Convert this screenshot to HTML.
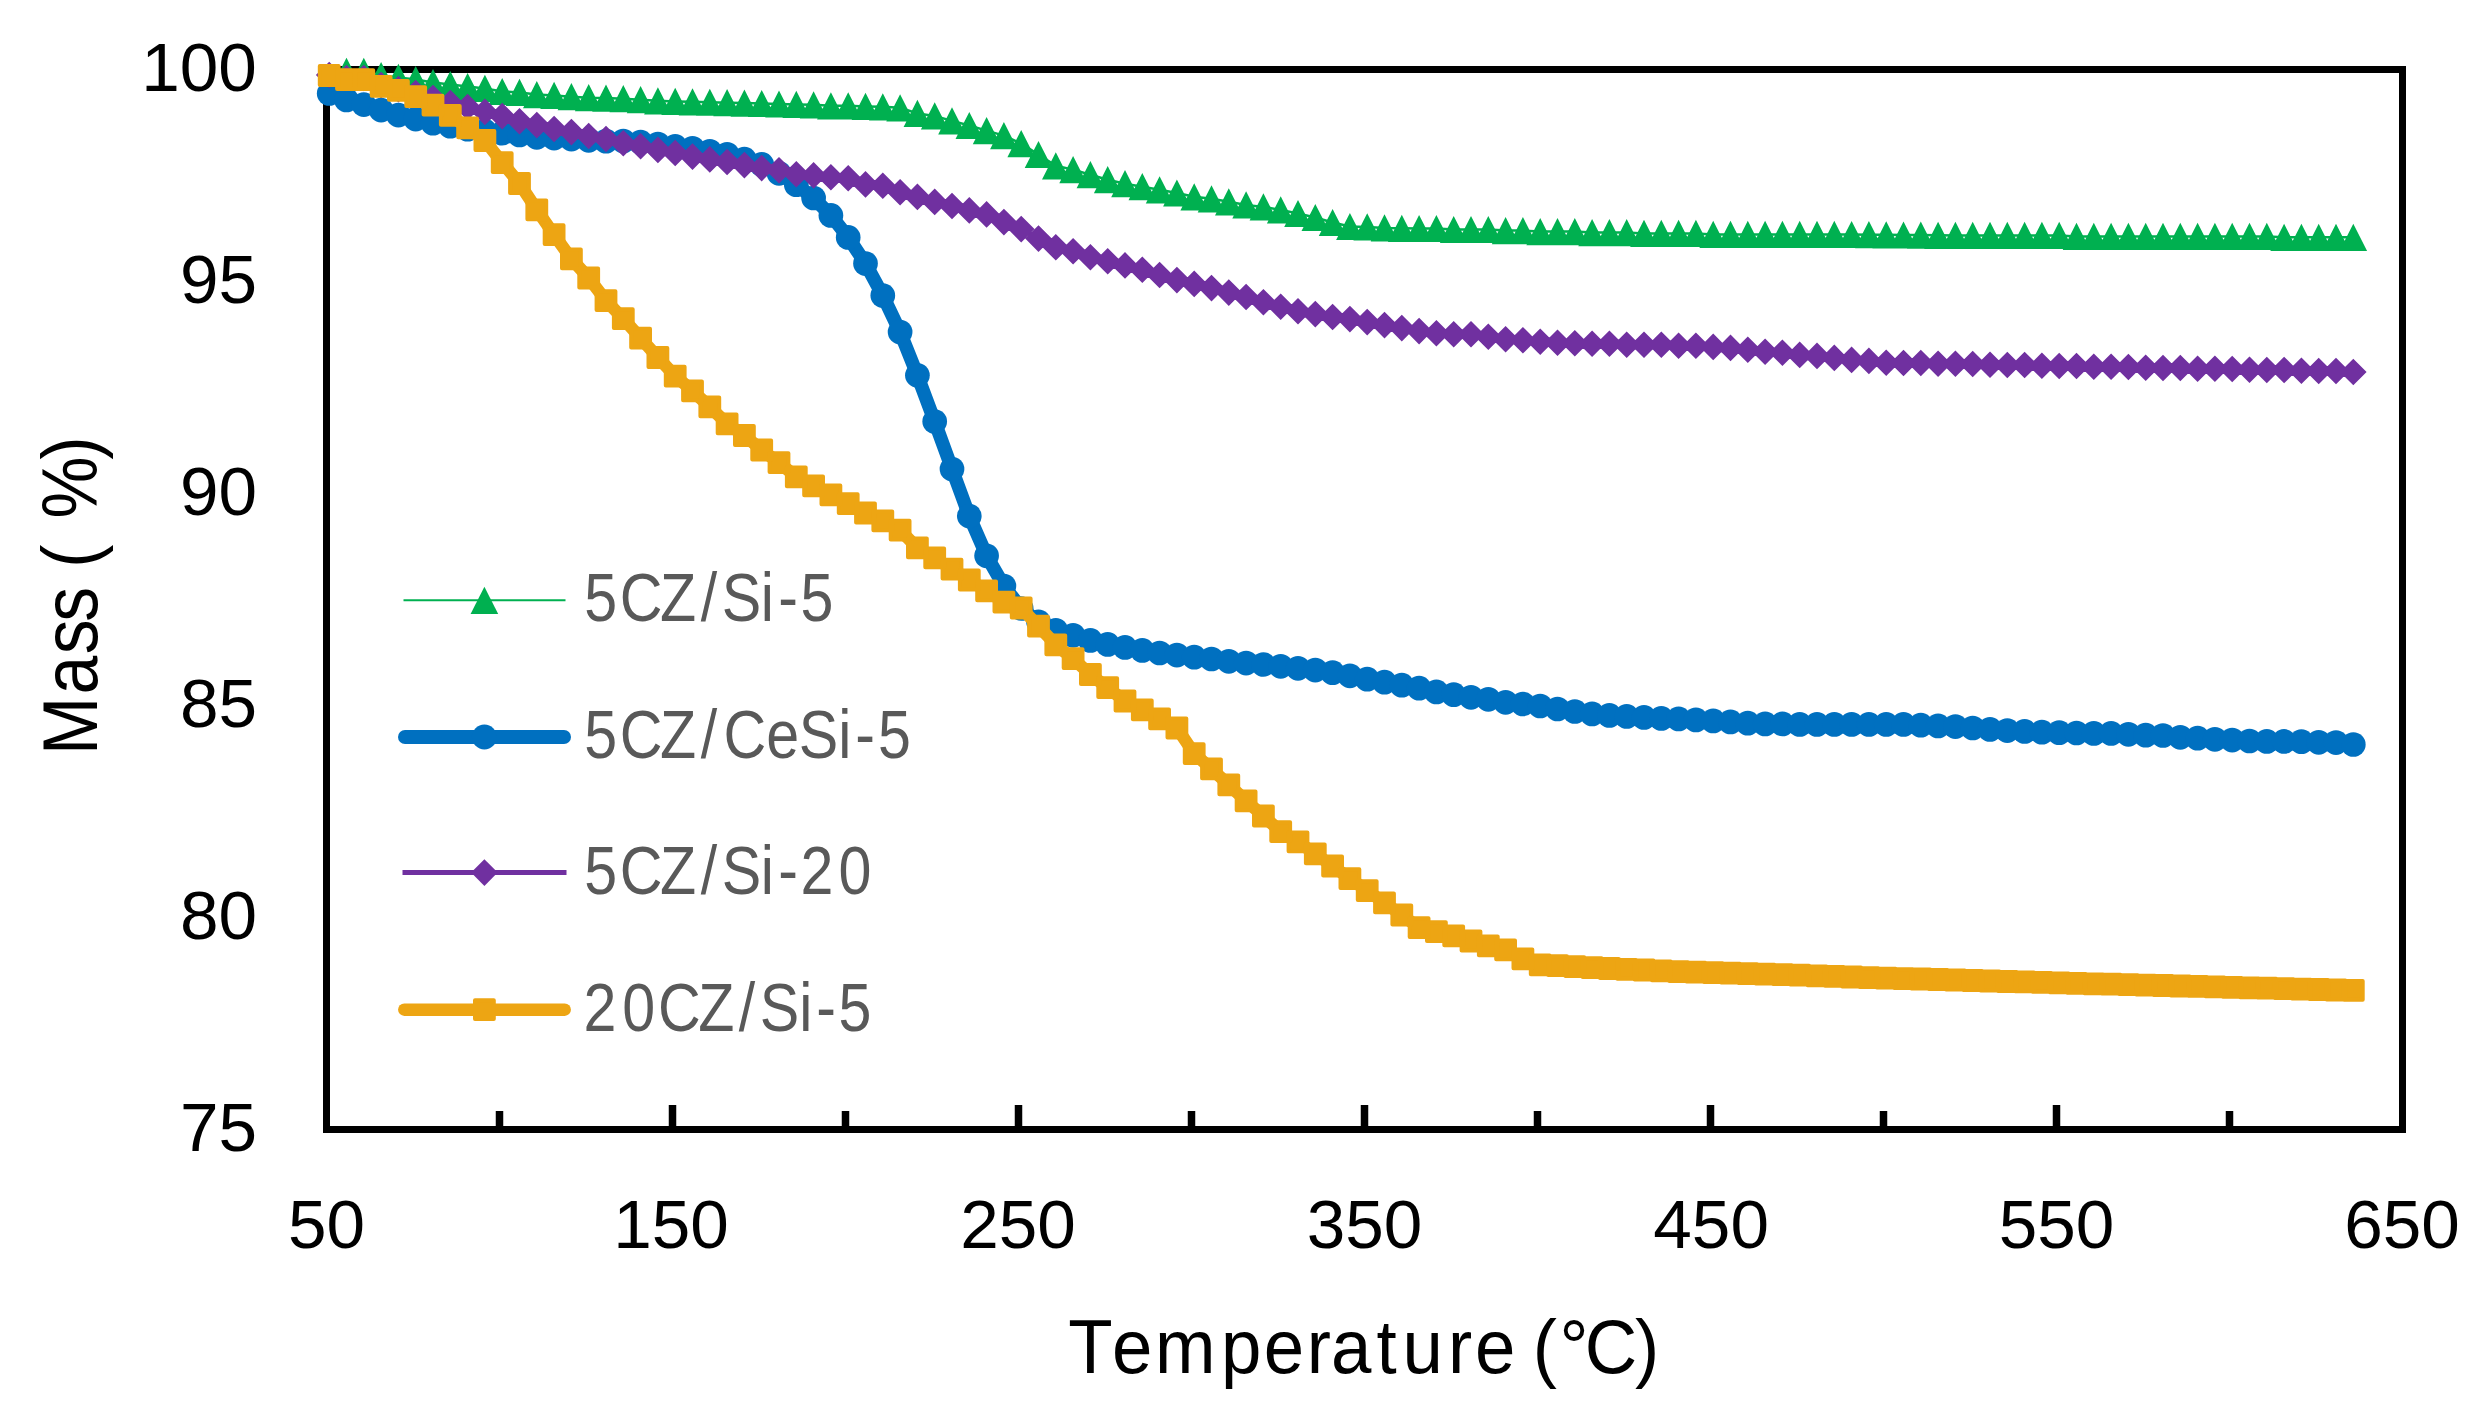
<!DOCTYPE html>
<html lang="en"><head><meta charset="utf-8"><title>TGA mass loss chart</title>
<style>html,body{margin:0;padding:0;background:#fff}body{width:2486px;height:1420px;overflow:hidden}</style>
</head><body>
<svg width="2486" height="1420" viewBox="0 0 2486 1420" style="display:block">
<rect width="2486" height="1420" fill="#fff"/>
<g stroke="#000" stroke-width="7.5" fill="none">
<path d="M499.5,1111V1129.5"/>
<path d="M672.5,1105V1129.5"/>
<path d="M845.5,1111V1129.5"/>
<path d="M1018.5,1105V1129.5"/>
<path d="M1191.5,1111V1129.5"/>
<path d="M1364.5,1105V1129.5"/>
<path d="M1537.5,1111V1129.5"/>
<path d="M1710.5,1105V1129.5"/>
<path d="M1883.5,1111V1129.5"/>
<path d="M2056.5,1105V1129.5"/>
<path d="M2229.5,1111V1129.5"/>
</g>
<rect x="326.5" y="69.5" width="2076.0" height="1060.0" fill="none" stroke="#000" stroke-width="7"/>
<polyline points="346.5,71.3 363.8,71.3 381.1,75.5 398.4,77.4 415.7,79.6 433,82.6 450.3,84.5 467.6,86.5 484.9,88.4 502.2,91.5 519.5,92.4 536.8,94.6 554.1,95.4 571.4,96.7 588.7,97.7 606,98.1 623.3,98.7 640.6,99.7 657.9,100.8 675.2,101.4 692.5,101.8 709.8,102.2 727.1,102.7 744.4,103.1 761.7,103.5 779,104 796.3,104.4 813.6,104.8 830.9,105.8 848.2,105.8 865.5,106.4 882.8,106.8 900.1,107.8 917.4,113.4 934.7,115.9 952,120.9 969.3,125.5 986.6,130.6 1003.9,135.6 1021.2,143.6 1038.5,154.5 1055.8,165.8 1073.1,169.6 1090.4,174.7 1107.7,179.7 1125,183.7 1142.3,186.7 1159.6,189.8 1176.9,193 1194.2,196.8 1211.5,198.8 1228.8,201.8 1246.1,204.9 1263.4,206.9 1280.7,209.9 1298,213.5 1315.3,217.5 1332.6,222.5 1349.9,226.5 1367.2,226.9 1384.5,227.9 1401.8,228.3 1419.1,228.5 1436.4,228.5 1453.7,229.5 1471,229.5 1488.3,229.5 1505.6,230.6 1522.9,230.6 1540.2,231.6 1557.5,231.6 1574.8,231.6 1592.1,232.6 1609.4,232.6 1626.7,232.6 1644,233.4 1661.3,233.4 1678.6,233.4 1695.9,233.4 1713.2,234.4 1730.5,234.4 1747.8,234.4 1765.1,234.4 1782.4,234.4 1799.7,234.4 1817,234.4 1834.3,234.4 1851.6,234.5 1868.9,234.7 1886.2,234.8 1903.5,235 1920.8,235.1 1938.1,235.3 1955.4,235.4 1972.7,235.4 1990,235.4 2007.3,235.4 2024.6,235.4 2041.9,235.4 2059.2,235.4 2076.5,236.4 2093.8,236.4 2111.1,236.4 2128.4,236.4 2145.7,236.4 2163,236.4 2180.3,236.4 2197.6,236.4 2214.9,236.4 2232.2,236.4 2249.5,236.4 2266.8,236.4 2284.1,237.3 2301.4,237.3 2318.7,237.3 2336,237.3 2353.3,237.3" fill="none" stroke="#00B050" stroke-width="2.5" stroke-linejoin="round"/>
<path d="M346.5,57.7L360.3,84.9H332.7ZM363.8,57.7L377.6,84.9H350ZM381.1,61.9L394.9,89.1H367.3ZM398.4,63.8L412.2,91H384.6ZM415.7,66L429.5,93.2H401.9ZM433,69L446.8,96.2H419.2ZM450.3,70.9L464.1,98.1H436.5ZM467.6,72.9L481.4,100.1H453.8ZM484.9,74.8L498.7,102H471.1ZM502.2,77.9L516,105.1H488.4ZM519.5,78.8L533.3,106H505.7ZM536.8,81L550.6,108.2H523ZM554.1,81.8L567.9,109H540.3ZM571.4,83.1L585.2,110.3H557.6ZM588.7,84.1L602.5,111.3H574.9ZM606,84.5L619.8,111.7H592.2ZM623.3,85.1L637.1,112.3H609.5ZM640.6,86.1L654.4,113.3H626.8ZM657.9,87.2L671.7,114.4H644.1ZM675.2,87.8L689,115H661.4ZM692.5,88.2L706.3,115.4H678.7ZM709.8,88.7L723.6,115.8H696ZM727.1,89.1L740.9,116.3H713.3ZM744.4,89.5L758.2,116.7H730.6ZM761.7,89.9L775.5,117.1H747.9ZM779,90.4L792.8,117.5H765.2ZM796.3,90.8L810.1,118H782.5ZM813.6,91.2L827.4,118.4H799.8ZM830.9,92.2L844.7,119.4H817.1ZM848.2,92.2L862,119.4H834.4ZM865.5,92.8L879.3,120H851.7ZM882.8,93.2L896.6,120.4H869ZM900.1,94.2L913.9,121.4H886.3ZM917.4,99.8L931.2,127H903.6ZM934.7,102.3L948.5,129.5H920.9ZM952,107.3L965.8,134.5H938.2ZM969.3,111.9L983.1,139.1H955.5ZM986.6,117L1000.4,144.2H972.8ZM1003.9,122L1017.7,149.2H990.1ZM1021.2,130L1035,157.2H1007.4ZM1038.5,140.9L1052.3,168.1H1024.7ZM1055.8,152.2L1069.6,179.4H1042ZM1073.1,156L1086.9,183.2H1059.3ZM1090.4,161.1L1104.2,188.3H1076.6ZM1107.7,166.1L1121.5,193.3H1093.9ZM1125,170.1L1138.8,197.3H1111.2ZM1142.3,173.1L1156.1,200.3H1128.5ZM1159.6,176.2L1173.4,203.4H1145.8ZM1176.9,179.4L1190.7,206.6H1163.1ZM1194.2,183.2L1208,210.4H1180.4ZM1211.5,185.2L1225.3,212.4H1197.7ZM1228.8,188.2L1242.6,215.4H1215ZM1246.1,191.3L1259.9,218.5H1232.3ZM1263.4,193.3L1277.2,220.5H1249.6ZM1280.7,196.3L1294.5,223.5H1266.9ZM1298,199.9L1311.8,227.1H1284.2ZM1315.3,203.9L1329.1,231.1H1301.5ZM1332.6,208.9L1346.4,236.1H1318.8ZM1349.9,212.9L1363.7,240.1H1336.1ZM1367.2,213.3L1381,240.5H1353.4ZM1384.5,214.3L1398.3,241.5H1370.7ZM1401.8,214.7L1415.6,241.9H1388ZM1419.1,214.9L1432.9,242.1H1405.3ZM1436.4,214.9L1450.2,242.1H1422.6ZM1453.7,215.9L1467.5,243.1H1439.9ZM1471,215.9L1484.8,243.1H1457.2ZM1488.3,215.9L1502.1,243.1H1474.5ZM1505.6,217L1519.4,244.2H1491.8ZM1522.9,217L1536.7,244.2H1509.1ZM1540.2,218L1554,245.2H1526.4ZM1557.5,218L1571.3,245.2H1543.7ZM1574.8,218L1588.6,245.2H1561ZM1592.1,219L1605.9,246.2H1578.3ZM1609.4,219L1623.2,246.2H1595.6ZM1626.7,219L1640.5,246.2H1612.9ZM1644,219.8L1657.8,247H1630.2ZM1661.3,219.8L1675.1,247H1647.5ZM1678.6,219.8L1692.4,247H1664.8ZM1695.9,219.8L1709.7,247H1682.1ZM1713.2,220.8L1727,248H1699.4ZM1730.5,220.8L1744.3,248H1716.7ZM1747.8,220.8L1761.6,248H1734ZM1765.1,220.8L1778.9,248H1751.3ZM1782.4,220.8L1796.2,248H1768.6ZM1799.7,220.8L1813.5,248H1785.9ZM1817,220.8L1830.8,248H1803.2ZM1834.3,220.8L1848.1,248H1820.5ZM1851.6,220.9L1865.4,248.1H1837.8ZM1868.9,221.1L1882.7,248.3H1855.1ZM1886.2,221.2L1900,248.4H1872.4ZM1903.5,221.4L1917.3,248.6H1889.7ZM1920.8,221.5L1934.6,248.7H1907ZM1938.1,221.7L1951.9,248.9H1924.3ZM1955.4,221.8L1969.2,249H1941.6ZM1972.7,221.8L1986.5,249H1958.9ZM1990,221.8L2003.8,249H1976.2ZM2007.3,221.8L2021.1,249H1993.5ZM2024.6,221.8L2038.4,249H2010.8ZM2041.9,221.8L2055.7,249H2028.1ZM2059.2,221.8L2073,249H2045.4ZM2076.5,222.8L2090.3,250H2062.7ZM2093.8,222.8L2107.6,250H2080ZM2111.1,222.8L2124.9,250H2097.3ZM2128.4,222.8L2142.2,250H2114.6ZM2145.7,222.8L2159.5,250H2131.9ZM2163,222.8L2176.8,250H2149.2ZM2180.3,222.8L2194.1,250H2166.5ZM2197.6,222.8L2211.4,250H2183.8ZM2214.9,222.8L2228.7,250H2201.1ZM2232.2,222.8L2246,250H2218.4ZM2249.5,222.8L2263.3,250H2235.7ZM2266.8,222.8L2280.6,250H2253ZM2284.1,223.7L2297.9,250.9H2270.3ZM2301.4,223.7L2315.2,250.9H2287.6ZM2318.7,223.7L2332.5,250.9H2304.9ZM2336,223.7L2349.8,250.9H2322.2ZM2353.3,223.7L2367.1,250.9H2339.5Z" fill="#00B050"/>
<polyline points="329.2,93.5 346.5,100 363.8,104.6 381.1,110.1 398.4,115.1 415.7,119.1 433,123.2 450.3,126.2 467.6,129.2 484.9,131.2 502.2,133.2 519.5,134.9 536.8,137.3 554.1,138.1 571.4,139.1 588.7,140.3 606,141.2 623.3,141.1 640.6,142.2 657.9,144 675.2,146.4 692.5,148.3 709.8,151.3 727.1,154.3 744.4,159.2 761.7,164.4 779,173.3 796.3,184.7 813.6,198 830.9,215.4 848.2,237.4 865.5,263.6 882.8,295.5 900.1,332 917.4,375.3 934.7,421.6 952,469 969.3,516.1 986.6,555.8 1003.9,586 1021.2,608.5 1038.5,621.8 1055.8,630.3 1073.1,635.3 1090.4,640.4 1107.7,644.4 1125,647.4 1142.3,650.4 1159.6,653 1176.9,655.1 1194.2,657.2 1211.5,659 1228.8,661.3 1246.1,663.1 1263.4,664.5 1280.7,666.3 1298,668.3 1315.3,670.1 1332.6,672.7 1349.9,675.8 1367.2,679.2 1384.5,682.2 1401.8,685.2 1419.1,688.2 1436.4,691.9 1453.7,694.7 1471,697.3 1488.3,699.3 1505.6,702.3 1522.9,704 1540.2,706 1557.5,709 1574.8,711.5 1592.1,713.9 1609.4,715.4 1626.7,716.4 1644,717.4 1661.3,718.4 1678.6,718.9 1695.9,719.9 1713.2,720.9 1730.5,721.9 1747.8,723.2 1765.1,723.9 1782.4,723.9 1799.7,724.4 1817,724.4 1834.3,724.4 1851.6,724.4 1868.9,724.4 1886.2,724.4 1903.5,724.4 1920.8,725.2 1938.1,725.9 1955.4,726.6 1972.7,728 1990,729.4 2007.3,730.6 2024.6,731.4 2041.9,732.2 2059.2,732.7 2076.5,733 2093.8,733.4 2111.1,733.4 2128.4,734.3 2145.7,735.2 2163,735.5 2180.3,737.3 2197.6,738.2 2214.9,739.3 2232.2,740.1 2249.5,741 2266.8,741.4 2284.1,741.4 2301.4,741.7 2318.7,742.3 2336,742.6 2353.3,744.5" fill="none" stroke="#0070C0" stroke-width="13.6" stroke-linejoin="round" stroke-linecap="round"/>
<g fill="#0070C0"><circle cx="329.2" cy="93.5" r="12.35"/><circle cx="346.5" cy="100" r="12.35"/><circle cx="363.8" cy="104.6" r="12.35"/><circle cx="381.1" cy="110.1" r="12.35"/><circle cx="398.4" cy="115.1" r="12.35"/><circle cx="415.7" cy="119.1" r="12.35"/><circle cx="433" cy="123.2" r="12.35"/><circle cx="450.3" cy="126.2" r="12.35"/><circle cx="467.6" cy="129.2" r="12.35"/><circle cx="484.9" cy="131.2" r="12.35"/><circle cx="502.2" cy="133.2" r="12.35"/><circle cx="519.5" cy="134.9" r="12.35"/><circle cx="536.8" cy="137.3" r="12.35"/><circle cx="554.1" cy="138.1" r="12.35"/><circle cx="571.4" cy="139.1" r="12.35"/><circle cx="588.7" cy="140.3" r="12.35"/><circle cx="606" cy="141.2" r="12.35"/><circle cx="623.3" cy="141.1" r="12.35"/><circle cx="640.6" cy="142.2" r="12.35"/><circle cx="657.9" cy="144" r="12.35"/><circle cx="675.2" cy="146.4" r="12.35"/><circle cx="692.5" cy="148.3" r="12.35"/><circle cx="709.8" cy="151.3" r="12.35"/><circle cx="727.1" cy="154.3" r="12.35"/><circle cx="744.4" cy="159.2" r="12.35"/><circle cx="761.7" cy="164.4" r="12.35"/><circle cx="779" cy="173.3" r="12.35"/><circle cx="796.3" cy="184.7" r="12.35"/><circle cx="813.6" cy="198" r="12.35"/><circle cx="830.9" cy="215.4" r="12.35"/><circle cx="848.2" cy="237.4" r="12.35"/><circle cx="865.5" cy="263.6" r="12.35"/><circle cx="882.8" cy="295.5" r="12.35"/><circle cx="900.1" cy="332" r="12.35"/><circle cx="917.4" cy="375.3" r="12.35"/><circle cx="934.7" cy="421.6" r="12.35"/><circle cx="952" cy="469" r="12.35"/><circle cx="969.3" cy="516.1" r="12.35"/><circle cx="986.6" cy="555.8" r="12.35"/><circle cx="1003.9" cy="586" r="12.35"/><circle cx="1021.2" cy="608.5" r="12.35"/><circle cx="1038.5" cy="621.8" r="12.35"/><circle cx="1055.8" cy="630.3" r="12.35"/><circle cx="1073.1" cy="635.3" r="12.35"/><circle cx="1090.4" cy="640.4" r="12.35"/><circle cx="1107.7" cy="644.4" r="12.35"/><circle cx="1125" cy="647.4" r="12.35"/><circle cx="1142.3" cy="650.4" r="12.35"/><circle cx="1159.6" cy="653" r="12.35"/><circle cx="1176.9" cy="655.1" r="12.35"/><circle cx="1194.2" cy="657.2" r="12.35"/><circle cx="1211.5" cy="659" r="12.35"/><circle cx="1228.8" cy="661.3" r="12.35"/><circle cx="1246.1" cy="663.1" r="12.35"/><circle cx="1263.4" cy="664.5" r="12.35"/><circle cx="1280.7" cy="666.3" r="12.35"/><circle cx="1298" cy="668.3" r="12.35"/><circle cx="1315.3" cy="670.1" r="12.35"/><circle cx="1332.6" cy="672.7" r="12.35"/><circle cx="1349.9" cy="675.8" r="12.35"/><circle cx="1367.2" cy="679.2" r="12.35"/><circle cx="1384.5" cy="682.2" r="12.35"/><circle cx="1401.8" cy="685.2" r="12.35"/><circle cx="1419.1" cy="688.2" r="12.35"/><circle cx="1436.4" cy="691.9" r="12.35"/><circle cx="1453.7" cy="694.7" r="12.35"/><circle cx="1471" cy="697.3" r="12.35"/><circle cx="1488.3" cy="699.3" r="12.35"/><circle cx="1505.6" cy="702.3" r="12.35"/><circle cx="1522.9" cy="704" r="12.35"/><circle cx="1540.2" cy="706" r="12.35"/><circle cx="1557.5" cy="709" r="12.35"/><circle cx="1574.8" cy="711.5" r="12.35"/><circle cx="1592.1" cy="713.9" r="12.35"/><circle cx="1609.4" cy="715.4" r="12.35"/><circle cx="1626.7" cy="716.4" r="12.35"/><circle cx="1644" cy="717.4" r="12.35"/><circle cx="1661.3" cy="718.4" r="12.35"/><circle cx="1678.6" cy="718.9" r="12.35"/><circle cx="1695.9" cy="719.9" r="12.35"/><circle cx="1713.2" cy="720.9" r="12.35"/><circle cx="1730.5" cy="721.9" r="12.35"/><circle cx="1747.8" cy="723.2" r="12.35"/><circle cx="1765.1" cy="723.9" r="12.35"/><circle cx="1782.4" cy="723.9" r="12.35"/><circle cx="1799.7" cy="724.4" r="12.35"/><circle cx="1817" cy="724.4" r="12.35"/><circle cx="1834.3" cy="724.4" r="12.35"/><circle cx="1851.6" cy="724.4" r="12.35"/><circle cx="1868.9" cy="724.4" r="12.35"/><circle cx="1886.2" cy="724.4" r="12.35"/><circle cx="1903.5" cy="724.4" r="12.35"/><circle cx="1920.8" cy="725.2" r="12.35"/><circle cx="1938.1" cy="725.9" r="12.35"/><circle cx="1955.4" cy="726.6" r="12.35"/><circle cx="1972.7" cy="728" r="12.35"/><circle cx="1990" cy="729.4" r="12.35"/><circle cx="2007.3" cy="730.6" r="12.35"/><circle cx="2024.6" cy="731.4" r="12.35"/><circle cx="2041.9" cy="732.2" r="12.35"/><circle cx="2059.2" cy="732.7" r="12.35"/><circle cx="2076.5" cy="733" r="12.35"/><circle cx="2093.8" cy="733.4" r="12.35"/><circle cx="2111.1" cy="733.4" r="12.35"/><circle cx="2128.4" cy="734.3" r="12.35"/><circle cx="2145.7" cy="735.2" r="12.35"/><circle cx="2163" cy="735.5" r="12.35"/><circle cx="2180.3" cy="737.3" r="12.35"/><circle cx="2197.6" cy="738.2" r="12.35"/><circle cx="2214.9" cy="739.3" r="12.35"/><circle cx="2232.2" cy="740.1" r="12.35"/><circle cx="2249.5" cy="741" r="12.35"/><circle cx="2266.8" cy="741.4" r="12.35"/><circle cx="2284.1" cy="741.4" r="12.35"/><circle cx="2301.4" cy="741.7" r="12.35"/><circle cx="2318.7" cy="742.3" r="12.35"/><circle cx="2336" cy="742.6" r="12.35"/><circle cx="2353.3" cy="744.5" r="12.35"/></g>
<polyline points="329.2,75 346.5,78 363.8,78 381.1,85.1 398.4,89.1 415.7,93 433,98.1 450.3,103.1 467.6,107.1 484.9,111.9 502.2,116.1 519.5,121.2 536.8,125.1 554.1,129 571.4,132.1 588.7,136 606,139 623.3,143.3 640.6,146.3 657.9,149.9 675.2,153 692.5,156.6 709.8,159.4 727.1,162 744.4,165.1 761.7,168.1 779,170.2 796.3,174.2 813.6,175.4 830.9,177.3 848.2,178.2 865.5,184.4 882.8,185.8 900.1,192.3 917.4,196.9 934.7,201.9 952,206 969.3,210.4 986.6,214.4 1003.9,222.1 1021.2,229.1 1038.5,238.6 1055.8,247.3 1073.1,251.3 1090.4,257.3 1107.7,261.3 1125,265.4 1142.3,269.8 1159.6,275 1176.9,280.1 1194.2,283.9 1211.5,288.1 1228.8,292.6 1246.1,297 1263.4,302.2 1280.7,306.7 1298,311.3 1315.3,314.1 1332.6,317 1349.9,319.1 1367.2,322.1 1384.5,325.1 1401.8,328.1 1419.1,331.1 1436.4,333.2 1453.7,334.2 1471,334.2 1488.3,336.8 1505.6,339.2 1522.9,340.2 1540.2,341.8 1557.5,342.8 1574.8,343.2 1592.1,343.8 1609.4,343.8 1626.7,344.8 1644,344.8 1661.3,344.8 1678.6,345.8 1695.9,345.8 1713.2,346.9 1730.5,347.9 1747.8,349.7 1765.1,351.7 1782.4,352.7 1799.7,354.9 1817,355.9 1834.3,357.9 1851.6,359.9 1868.9,360.9 1886.2,362.8 1903.5,363 1920.8,363 1938.1,363.8 1955.4,363.8 1972.7,364 1990,364.8 2007.3,365 2024.6,365 2041.9,365.8 2059.2,366 2076.5,366 2093.8,366.8 2111.1,366.8 2128.4,367 2145.7,367.8 2163,368 2180.3,368 2197.6,368.8 2214.9,368.8 2232.2,369 2249.5,369.8 2266.8,370 2284.1,370 2301.4,370.8 2318.7,371 2336,371 2353.3,372" fill="none" stroke="#7030A0" stroke-width="5" stroke-linejoin="round"/>
<path d="M329.2,61.7L342.5,75L329.2,88.3L315.9,75ZM346.5,64.7L359.8,78L346.5,91.3L333.2,78ZM363.8,64.7L377.1,78L363.8,91.3L350.5,78ZM381.1,71.8L394.4,85.1L381.1,98.4L367.8,85.1ZM398.4,75.8L411.7,89.1L398.4,102.4L385.1,89.1ZM415.7,79.7L429,93L415.7,106.3L402.4,93ZM433,84.8L446.3,98.1L433,111.4L419.7,98.1ZM450.3,89.8L463.6,103.1L450.3,116.4L437,103.1ZM467.6,93.8L480.9,107.1L467.6,120.4L454.3,107.1ZM484.9,98.6L498.2,111.9L484.9,125.2L471.6,111.9ZM502.2,102.8L515.5,116.1L502.2,129.4L488.9,116.1ZM519.5,107.9L532.8,121.2L519.5,134.5L506.2,121.2ZM536.8,111.8L550.1,125.1L536.8,138.4L523.5,125.1ZM554.1,115.7L567.4,129L554.1,142.3L540.8,129ZM571.4,118.8L584.7,132.1L571.4,145.4L558.1,132.1ZM588.7,122.7L602,136L588.7,149.3L575.4,136ZM606,125.7L619.3,139L606,152.3L592.7,139ZM623.3,130L636.6,143.3L623.3,156.6L610,143.3ZM640.6,133L653.9,146.3L640.6,159.6L627.3,146.3ZM657.9,136.6L671.2,149.9L657.9,163.2L644.6,149.9ZM675.2,139.7L688.5,153L675.2,166.3L661.9,153ZM692.5,143.3L705.8,156.6L692.5,169.9L679.2,156.6ZM709.8,146.1L723.1,159.4L709.8,172.7L696.5,159.4ZM727.1,148.7L740.4,162L727.1,175.3L713.8,162ZM744.4,151.8L757.7,165.1L744.4,178.4L731.1,165.1ZM761.7,154.8L775,168.1L761.7,181.4L748.4,168.1ZM779,156.9L792.3,170.2L779,183.5L765.7,170.2ZM796.3,160.9L809.6,174.2L796.3,187.5L783,174.2ZM813.6,162.1L826.9,175.4L813.6,188.7L800.3,175.4ZM830.9,164L844.2,177.3L830.9,190.6L817.6,177.3ZM848.2,164.9L861.5,178.2L848.2,191.5L834.9,178.2ZM865.5,171.1L878.8,184.4L865.5,197.7L852.2,184.4ZM882.8,172.5L896.1,185.8L882.8,199.1L869.5,185.8ZM900.1,179L913.4,192.3L900.1,205.6L886.8,192.3ZM917.4,183.6L930.7,196.9L917.4,210.2L904.1,196.9ZM934.7,188.6L948,201.9L934.7,215.2L921.4,201.9ZM952,192.7L965.3,206L952,219.3L938.7,206ZM969.3,197.1L982.6,210.4L969.3,223.7L956,210.4ZM986.6,201.1L999.9,214.4L986.6,227.7L973.3,214.4ZM1003.9,208.8L1017.2,222.1L1003.9,235.4L990.6,222.1ZM1021.2,215.8L1034.5,229.1L1021.2,242.4L1007.9,229.1ZM1038.5,225.3L1051.8,238.6L1038.5,251.9L1025.2,238.6ZM1055.8,234L1069.1,247.3L1055.8,260.6L1042.5,247.3ZM1073.1,238L1086.4,251.3L1073.1,264.6L1059.8,251.3ZM1090.4,244L1103.7,257.3L1090.4,270.6L1077.1,257.3ZM1107.7,248L1121,261.3L1107.7,274.6L1094.4,261.3ZM1125,252.1L1138.3,265.4L1125,278.7L1111.7,265.4ZM1142.3,256.5L1155.6,269.8L1142.3,283.1L1129,269.8ZM1159.6,261.7L1172.9,275L1159.6,288.3L1146.3,275ZM1176.9,266.8L1190.2,280.1L1176.9,293.4L1163.6,280.1ZM1194.2,270.6L1207.5,283.9L1194.2,297.2L1180.9,283.9ZM1211.5,274.8L1224.8,288.1L1211.5,301.4L1198.2,288.1ZM1228.8,279.3L1242.1,292.6L1228.8,305.9L1215.5,292.6ZM1246.1,283.7L1259.4,297L1246.1,310.3L1232.8,297ZM1263.4,288.9L1276.7,302.2L1263.4,315.5L1250.1,302.2ZM1280.7,293.4L1294,306.7L1280.7,320L1267.4,306.7ZM1298,298L1311.3,311.3L1298,324.6L1284.7,311.3ZM1315.3,300.8L1328.6,314.1L1315.3,327.4L1302,314.1ZM1332.6,303.7L1345.9,317L1332.6,330.3L1319.3,317ZM1349.9,305.8L1363.2,319.1L1349.9,332.4L1336.6,319.1ZM1367.2,308.8L1380.5,322.1L1367.2,335.4L1353.9,322.1ZM1384.5,311.8L1397.8,325.1L1384.5,338.4L1371.2,325.1ZM1401.8,314.8L1415.1,328.1L1401.8,341.4L1388.5,328.1ZM1419.1,317.8L1432.4,331.1L1419.1,344.4L1405.8,331.1ZM1436.4,319.9L1449.7,333.2L1436.4,346.5L1423.1,333.2ZM1453.7,320.9L1467,334.2L1453.7,347.5L1440.4,334.2ZM1471,320.9L1484.3,334.2L1471,347.5L1457.7,334.2ZM1488.3,323.5L1501.6,336.8L1488.3,350.1L1475,336.8ZM1505.6,325.9L1518.9,339.2L1505.6,352.5L1492.3,339.2ZM1522.9,326.9L1536.2,340.2L1522.9,353.5L1509.6,340.2ZM1540.2,328.5L1553.5,341.8L1540.2,355.1L1526.9,341.8ZM1557.5,329.5L1570.8,342.8L1557.5,356.1L1544.2,342.8ZM1574.8,329.9L1588.1,343.2L1574.8,356.5L1561.5,343.2ZM1592.1,330.5L1605.4,343.8L1592.1,357.1L1578.8,343.8ZM1609.4,330.5L1622.7,343.8L1609.4,357.1L1596.1,343.8ZM1626.7,331.5L1640,344.8L1626.7,358.1L1613.4,344.8ZM1644,331.5L1657.3,344.8L1644,358.1L1630.7,344.8ZM1661.3,331.5L1674.6,344.8L1661.3,358.1L1648,344.8ZM1678.6,332.5L1691.9,345.8L1678.6,359.1L1665.3,345.8ZM1695.9,332.5L1709.2,345.8L1695.9,359.1L1682.6,345.8ZM1713.2,333.6L1726.5,346.9L1713.2,360.2L1699.9,346.9ZM1730.5,334.6L1743.8,347.9L1730.5,361.2L1717.2,347.9ZM1747.8,336.4L1761.1,349.7L1747.8,363L1734.5,349.7ZM1765.1,338.4L1778.4,351.7L1765.1,365L1751.8,351.7ZM1782.4,339.4L1795.7,352.7L1782.4,366L1769.1,352.7ZM1799.7,341.6L1813,354.9L1799.7,368.2L1786.4,354.9ZM1817,342.6L1830.3,355.9L1817,369.2L1803.7,355.9ZM1834.3,344.6L1847.6,357.9L1834.3,371.2L1821,357.9ZM1851.6,346.6L1864.9,359.9L1851.6,373.2L1838.3,359.9ZM1868.9,347.6L1882.2,360.9L1868.9,374.2L1855.6,360.9ZM1886.2,349.5L1899.5,362.8L1886.2,376.1L1872.9,362.8ZM1903.5,349.7L1916.8,363L1903.5,376.3L1890.2,363ZM1920.8,349.7L1934.1,363L1920.8,376.3L1907.5,363ZM1938.1,350.5L1951.4,363.8L1938.1,377.1L1924.8,363.8ZM1955.4,350.5L1968.7,363.8L1955.4,377.1L1942.1,363.8ZM1972.7,350.7L1986,364L1972.7,377.3L1959.4,364ZM1990,351.5L2003.3,364.8L1990,378.1L1976.7,364.8ZM2007.3,351.7L2020.6,365L2007.3,378.3L1994,365ZM2024.6,351.7L2037.9,365L2024.6,378.3L2011.3,365ZM2041.9,352.5L2055.2,365.8L2041.9,379.1L2028.6,365.8ZM2059.2,352.7L2072.5,366L2059.2,379.3L2045.9,366ZM2076.5,352.7L2089.8,366L2076.5,379.3L2063.2,366ZM2093.8,353.5L2107.1,366.8L2093.8,380.1L2080.5,366.8ZM2111.1,353.5L2124.4,366.8L2111.1,380.1L2097.8,366.8ZM2128.4,353.7L2141.7,367L2128.4,380.3L2115.1,367ZM2145.7,354.5L2159,367.8L2145.7,381.1L2132.4,367.8ZM2163,354.7L2176.3,368L2163,381.3L2149.7,368ZM2180.3,354.7L2193.6,368L2180.3,381.3L2167,368ZM2197.6,355.5L2210.9,368.8L2197.6,382.1L2184.3,368.8ZM2214.9,355.5L2228.2,368.8L2214.9,382.1L2201.6,368.8ZM2232.2,355.7L2245.5,369L2232.2,382.3L2218.9,369ZM2249.5,356.5L2262.8,369.8L2249.5,383.1L2236.2,369.8ZM2266.8,356.7L2280.1,370L2266.8,383.3L2253.5,370ZM2284.1,356.7L2297.4,370L2284.1,383.3L2270.8,370ZM2301.4,357.5L2314.7,370.8L2301.4,384.1L2288.1,370.8ZM2318.7,357.7L2332,371L2318.7,384.3L2305.4,371ZM2336,357.7L2349.3,371L2336,384.3L2322.7,371ZM2353.3,358.7L2366.6,372L2353.3,385.3L2340,372Z" fill="#7030A0"/>
<polyline points="329.2,75.5 346.5,79.7 363.8,79.7 381.1,86.4 398.4,90.4 415.7,96.6 433,105.1 450.3,115.3 467.6,127.8 484.9,140.5 502.2,162.6 519.5,183.5 536.8,209.8 554.1,234.7 571.4,258.8 588.7,278 606,300.6 623.3,318.7 640.6,338.1 657.9,357.5 675.2,376.1 692.5,390.8 709.8,406.9 727.1,423.8 744.4,435.5 761.7,450 779,462.7 796.3,476.8 813.6,485.8 830.9,494.9 848.2,503.7 865.5,513 882.8,520.8 900.1,530.1 917.4,547.8 934.7,557.9 952,569.1 969.3,580 986.6,590.9 1003.9,602.1 1021.2,608 1038.5,626.2 1055.8,644.8 1073.1,658.7 1090.4,674.5 1107.7,687.7 1125,701 1142.3,709.8 1159.6,718.9 1176.9,728 1194.2,753.6 1211.5,768.9 1228.8,784.8 1246.1,800.9 1263.4,816 1280.7,831.7 1298,841.8 1315.3,853.9 1332.6,866 1349.9,878.6 1367.2,890.7 1384.5,902.9 1401.8,915 1419.1,927.7 1436.4,931.6 1453.7,935.9 1471,941 1488.3,945.8 1505.6,949.8 1522.9,958.9 1540.2,964.9 1557.5,965.7 1574.8,966.6 1592.1,967.6 1609.4,968.5 1626.7,969.3 1644,970 1661.3,970.8 1678.6,971.6 1695.9,972.1 1713.2,972.6 1730.5,973.1 1747.8,973.6 1765.1,974.1 1782.4,974.6 1799.7,975.2 1817,975.8 1834.3,976.4 1851.6,977 1868.9,977.6 1886.2,978.1 1903.5,978.6 1920.8,979 1938.1,979.5 1955.4,980 1972.7,980.5 1990,981 2007.3,981.5 2024.6,981.9 2041.9,982.4 2059.2,982.9 2076.5,983.3 2093.8,983.8 2111.1,984.2 2128.4,984.7 2145.7,985.1 2163,985.5 2180.3,986 2197.6,986.4 2214.9,986.9 2232.2,987.3 2249.5,987.8 2266.8,988.2 2284.1,988.6 2301.4,989.1 2318.7,989.5 2336,990 2353.3,990.4" fill="none" stroke="#EDA513" stroke-width="12.5" stroke-linejoin="round" stroke-linecap="round"/>
<path d="M319.8,66.1h18.8v18.8h-18.8ZM337.1,70.3h18.8v18.8h-18.8ZM354.4,70.3h18.8v18.8h-18.8ZM371.7,77h18.8v18.8h-18.8ZM389,81h18.8v18.8h-18.8ZM406.3,87.2h18.8v18.8h-18.8ZM423.6,95.7h18.8v18.8h-18.8ZM440.9,105.9h18.8v18.8h-18.8ZM458.2,118.4h18.8v18.8h-18.8ZM475.5,131.1h18.8v18.8h-18.8ZM492.8,153.2h18.8v18.8h-18.8ZM510.1,174.1h18.8v18.8h-18.8ZM527.4,200.4h18.8v18.8h-18.8ZM544.7,225.3h18.8v18.8h-18.8ZM562,249.4h18.8v18.8h-18.8ZM579.3,268.6h18.8v18.8h-18.8ZM596.6,291.2h18.8v18.8h-18.8ZM613.9,309.3h18.8v18.8h-18.8ZM631.2,328.7h18.8v18.8h-18.8ZM648.5,348.1h18.8v18.8h-18.8ZM665.8,366.7h18.8v18.8h-18.8ZM683.1,381.4h18.8v18.8h-18.8ZM700.4,397.5h18.8v18.8h-18.8ZM717.7,414.4h18.8v18.8h-18.8ZM735,426.1h18.8v18.8h-18.8ZM752.3,440.6h18.8v18.8h-18.8ZM769.6,453.3h18.8v18.8h-18.8ZM786.9,467.4h18.8v18.8h-18.8ZM804.2,476.4h18.8v18.8h-18.8ZM821.5,485.5h18.8v18.8h-18.8ZM838.8,494.3h18.8v18.8h-18.8ZM856.1,503.6h18.8v18.8h-18.8ZM873.4,511.4h18.8v18.8h-18.8ZM890.7,520.7h18.8v18.8h-18.8ZM908,538.4h18.8v18.8h-18.8ZM925.3,548.5h18.8v18.8h-18.8ZM942.6,559.7h18.8v18.8h-18.8ZM959.9,570.6h18.8v18.8h-18.8ZM977.2,581.5h18.8v18.8h-18.8ZM994.5,592.7h18.8v18.8h-18.8ZM1011.8,598.6h18.8v18.8h-18.8ZM1029.1,616.8h18.8v18.8h-18.8ZM1046.4,635.4h18.8v18.8h-18.8ZM1063.7,649.3h18.8v18.8h-18.8ZM1081,665.1h18.8v18.8h-18.8ZM1098.3,678.3h18.8v18.8h-18.8ZM1115.6,691.6h18.8v18.8h-18.8ZM1132.9,700.4h18.8v18.8h-18.8ZM1150.2,709.5h18.8v18.8h-18.8ZM1167.5,718.6h18.8v18.8h-18.8ZM1184.8,744.2h18.8v18.8h-18.8ZM1202.1,759.5h18.8v18.8h-18.8ZM1219.4,775.4h18.8v18.8h-18.8ZM1236.7,791.5h18.8v18.8h-18.8ZM1254,806.6h18.8v18.8h-18.8ZM1271.3,822.3h18.8v18.8h-18.8ZM1288.6,832.4h18.8v18.8h-18.8ZM1305.9,844.5h18.8v18.8h-18.8ZM1323.2,856.6h18.8v18.8h-18.8ZM1340.5,869.2h18.8v18.8h-18.8ZM1357.8,881.3h18.8v18.8h-18.8ZM1375.1,893.5h18.8v18.8h-18.8ZM1392.4,905.6h18.8v18.8h-18.8ZM1409.7,918.3h18.8v18.8h-18.8ZM1427,922.2h18.8v18.8h-18.8ZM1444.3,926.5h18.8v18.8h-18.8ZM1461.6,931.6h18.8v18.8h-18.8ZM1478.9,936.4h18.8v18.8h-18.8ZM1496.2,940.4h18.8v18.8h-18.8ZM1513.5,949.5h18.8v18.8h-18.8ZM1530.8,955.5h18.8v18.8h-18.8ZM1548.1,956.3h18.8v18.8h-18.8ZM1565.4,957.2h18.8v18.8h-18.8ZM1582.7,958.2h18.8v18.8h-18.8ZM1600,959.1h18.8v18.8h-18.8ZM1617.3,959.9h18.8v18.8h-18.8ZM1634.6,960.6h18.8v18.8h-18.8ZM1651.9,961.4h18.8v18.8h-18.8ZM1669.2,962.2h18.8v18.8h-18.8ZM1686.5,962.7h18.8v18.8h-18.8ZM1703.8,963.2h18.8v18.8h-18.8ZM1721.1,963.7h18.8v18.8h-18.8ZM1738.4,964.2h18.8v18.8h-18.8ZM1755.7,964.7h18.8v18.8h-18.8ZM1773,965.2h18.8v18.8h-18.8ZM1790.3,965.8h18.8v18.8h-18.8ZM1807.6,966.4h18.8v18.8h-18.8ZM1824.9,967h18.8v18.8h-18.8ZM1842.2,967.6h18.8v18.8h-18.8ZM1859.5,968.2h18.8v18.8h-18.8ZM1876.8,968.7h18.8v18.8h-18.8ZM1894.1,969.2h18.8v18.8h-18.8ZM1911.4,969.6h18.8v18.8h-18.8ZM1928.7,970.1h18.8v18.8h-18.8ZM1946,970.6h18.8v18.8h-18.8ZM1963.3,971.1h18.8v18.8h-18.8ZM1980.6,971.6h18.8v18.8h-18.8ZM1997.9,972.1h18.8v18.8h-18.8ZM2015.2,972.5h18.8v18.8h-18.8ZM2032.5,973h18.8v18.8h-18.8ZM2049.8,973.5h18.8v18.8h-18.8ZM2067.1,973.9h18.8v18.8h-18.8ZM2084.4,974.4h18.8v18.8h-18.8ZM2101.7,974.8h18.8v18.8h-18.8ZM2119,975.3h18.8v18.8h-18.8ZM2136.3,975.7h18.8v18.8h-18.8ZM2153.6,976.1h18.8v18.8h-18.8ZM2170.9,976.6h18.8v18.8h-18.8ZM2188.2,977h18.8v18.8h-18.8ZM2205.5,977.5h18.8v18.8h-18.8ZM2222.8,977.9h18.8v18.8h-18.8ZM2240.1,978.4h18.8v18.8h-18.8ZM2257.4,978.8h18.8v18.8h-18.8ZM2274.7,979.2h18.8v18.8h-18.8ZM2292,979.7h18.8v18.8h-18.8ZM2309.3,980.1h18.8v18.8h-18.8ZM2326.6,980.6h18.8v18.8h-18.8ZM2343.9,981h18.8v18.8h-18.8Z" fill="#EDA513" stroke="#EDA513" stroke-width="4" stroke-linejoin="round"/>
<path d="M403.5,600.3H565.5" stroke="#00B050" stroke-width="2"/>
<path d="M484.4,586.7L498.2,613.9H470.6Z" fill="#00B050"/>
<path d="M405.0,737.0H564.0" stroke="#0070C0" stroke-width="14" stroke-linecap="round"/>
<circle cx="484.4" cy="737.0" r="12.5" fill="#0070C0"/>
<path d="M402.5,872.6H566.5" stroke="#7030A0" stroke-width="5"/>
<path d="M484.4,859.3L497.7,872.6L484.4,885.9L471.1,872.6Z" fill="#7030A0"/>
<path d="M404.3,1009.7H564.7" stroke="#EDA513" stroke-width="12.5" stroke-linecap="round"/>
<path d="M475,1000.3h18.8v18.8h-18.8Z" fill="#EDA513" stroke="#EDA513" stroke-width="4" stroke-linejoin="round"/>
<g font-family='"Liberation Sans", sans-serif' style="white-space:pre">
<text transform="translate(141.24,90.90)" font-size="69.3" fill="#000">100</text>
<text transform="translate(180.05,302.90)" font-size="69.3" fill="#000">95</text>
<text transform="translate(180.05,514.90)" font-size="69.3" fill="#000">90</text>
<text transform="translate(180.05,726.90)" font-size="69.3" fill="#000">85</text>
<text transform="translate(180.05,938.90)" font-size="69.3" fill="#000">80</text>
<text transform="translate(180.05,1150.90)" font-size="69.3" fill="#000">75</text>
<text transform="translate(288.04,1248.20)" font-size="69.3" fill="#000">50</text>
<text transform="translate(613.25,1248.20)" font-size="69.3" fill="#000">150</text>
<text transform="translate(960.29,1248.20)" font-size="69.3" fill="#000">250</text>
<text transform="translate(1306.63,1248.20)" font-size="69.3" fill="#000">350</text>
<text transform="translate(1653.33,1248.20)" font-size="69.3" fill="#000">450</text>
<text transform="translate(1998.63,1248.20)" font-size="69.3" fill="#000">550</text>
<text transform="translate(2344.29,1248.20)" font-size="69.3" fill="#000">650</text>
<text transform="translate(1071.00,1373.00) scale(0.95,1)" x="-2.9 43.1 88.4 157.8 202.9 248.2 273.8 321.5 349.0 396.8 425.2 464.2 486.1 514.1 540.8 593.6" y="0" font-size="76.5" fill="#000" xml:space="preserve">Temperature (°C)</text>
<text transform="translate(96.60,755.50) rotate(-90) scale(0.9,1)" x="0.5 67.7 112.5 148.5 184.1 208.6 233.4 263.3 328.6" y="0" font-size="77.5" fill="#000" xml:space="preserve">Mass ( %)</text>
<text transform="translate(585.00,621.40) scale(0.87,1)" x="-0.9 39.9 86.2 133.0 157.1 202.1 222.1 247.6" y="0" font-size="68.0" fill="#595959" xml:space="preserve">5CZ/Si-5</text>
<text transform="translate(585.00,758.10) scale(0.87,1)" x="-0.9 39.9 86.2 133.0 159.3 208.3 245.8 291.2 310.6 336.7" y="0" font-size="68.0" fill="#595959" xml:space="preserve">5CZ/CeSi-5</text>
<text transform="translate(585.00,893.70) scale(0.87,1)" x="-0.9 39.9 86.2 133.0 157.1 202.1 222.1 247.8 291.5" y="0" font-size="68.0" fill="#595959" xml:space="preserve">5CZ/Si-20</text>
<text transform="translate(585.00,1030.80) scale(0.87,1)" x="-1.6 42.7 83.9 130.2 176.8 200.8 246.3 265.8 291.4" y="0" font-size="68.0" fill="#595959" xml:space="preserve">20CZ/Si-5</text>
</g>
</svg>
</body></html>
